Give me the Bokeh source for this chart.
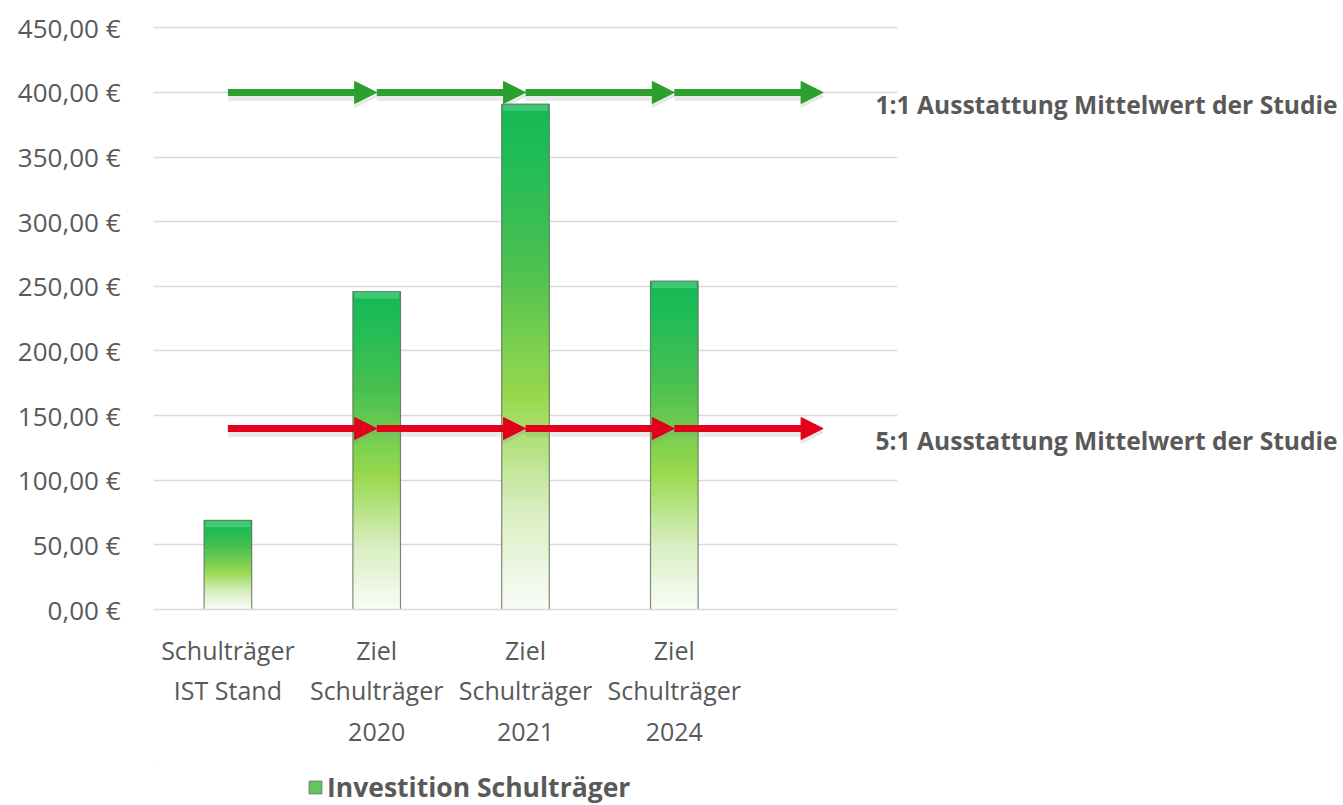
import numpy as np
from bokeh.plotting import figure
from bokeh.layouts import column
from bokeh.models import (Range1d, FixedTicker, Arrow, NormalHead,
                          Legend, LegendItem, ColumnDataSource, LinearAxis)
from bokeh.embed import file_html
from bokeh.resources import INLINE

# ---------------- data ----------------
categories = ["Schulträger\nIST Stand", "Ziel\nSchulträger\n2020",
              "Ziel\nSchulträger\n2021", "Ziel\nSchulträger\n2024", ""]
investition = [69, 246, 391, 254]
mittelwert_1zu1 = 400
mittelwert_5zu1 = 140
y_ticks = [0, 50, 100, 150, 200, 250, 300, 350, 400, 450]
y_tick_labels = ["0,00 €", "50,00 €", "100,00 €", "150,00 €", "200,00 €",
                 "250,00 €", "300,00 €", "350,00 €", "400,00 €", "450,00 €"]
series_name = "Investition Schulträger"
label_1zu1 = "1:1 Ausstattung Mittelwert der Studie"
label_5zu1 = "5:1 Ausstattung Mittelwert der Studie"

FONT = "Open Sans"
TXT = "#595959"

n_cat = len(categories)
centers = [i + 0.5 for i in range(n_cat)]

Y0, Y1 = 0, 451
FRAME_H = 583
px = (Y1 - Y0) / FRAME_H          # data units per pixel

p = figure(width=1343, height=765, output_backend="svg", toolbar_location=None,
           x_range=Range1d(0, n_cat), y_range=Range1d(Y0, Y1),
           min_border_left=153, min_border_right=446, min_border_top=26,
           min_border_bottom=156)
p.outline_line_color = None
p.background_fill_color = "white"
# shifted ranges: text placed 12 px below its line, shadows 4 px below
p.extra_y_ranges = {"lbl": Range1d(Y0 + 12 * px, Y1 + 12 * px),
                    "shadow": Range1d(Y0 + 4 * px, Y1 + 4 * px)}

# grid
p.xgrid.grid_line_color = None
p.ygrid.ticker = FixedTicker(ticks=y_ticks)
p.ygrid.grid_line_color = "#d9d9d9"
p.ygrid.grid_line_width = 1.5

# y axis
p.yaxis.ticker = FixedTicker(ticks=y_ticks)
p.yaxis.major_label_overrides = {t: l for t, l in zip(y_ticks, y_tick_labels)}
p.yaxis.axis_line_color = None
p.yaxis.major_tick_line_color = None
p.yaxis.minor_tick_line_color = None
p.yaxis.major_label_standoff = 27
p.yaxis.major_label_text_font = FONT
p.yaxis.major_label_text_font_size = "26px"
p.yaxis.major_label_text_color = TXT

# x axis
p.xaxis.ticker = FixedTicker(ticks=centers)
p.xaxis.major_label_overrides = {c: l for c, l in zip(centers, categories)}
p.xaxis.axis_line_color = "#d9d9d9"
p.xaxis.axis_line_width = 1.5
p.xaxis.major_tick_line_color = None
p.xaxis.minor_tick_line_color = None
p.xaxis.major_label_standoff = 17
p.xaxis.major_label_text_font = FONT
p.xaxis.major_label_text_font_size = "25px"
p.xaxis.major_label_text_color = TXT

# right axis carrying the two reference-line labels
ref_vals = [mittelwert_1zu1, mittelwert_5zu1]
ref_labels = [label_1zu1, label_5zu1]
raxis = LinearAxis(y_range_name="lbl", ticker=FixedTicker(ticks=ref_vals),
                   major_label_overrides={v: l for v, l in zip(ref_vals, ref_labels)},
                   axis_line_color=None, major_tick_line_color=None,
                   minor_tick_line_color=None, major_label_standoff=-28,
                   major_label_text_font=FONT, major_label_text_font_style="bold",
                   major_label_text_font_size="24.6px", major_label_text_color=TXT)
p.add_layout(raxis, "right")

# ---------------- gradient bars ----------------
stops_t = [0.0, 0.08, 0.3, 0.58, 0.8, 1.0]
stops_c = np.array([(22, 182, 84), (28, 188, 88), (70, 192, 80),
                    (152, 216, 78), (216, 238, 192), (250, 252, 248)], float)

def grad_color(t):
    rgb = [np.interp(t, stops_t, stops_c[:, k]) for k in range(3)]
    return "#%02x%02x%02x" % tuple(int(round(v)) for v in rgb)

N = 90
bw = 0.32
xs, bots, tops, cols = [], [], [], []
for i, v in enumerate(investition):
    for k in range(N):
        b = v * k / N
        tp = min(v, v * (k + 1.8) / N)
        t = 1 - (k + 0.5) / N
        xs.append(centers[i]); bots.append(b); tops.append(tp)
        cols.append(grad_color(t))
p.vbar(x=xs, bottom=bots, top=tops, width=bw, fill_color=cols, line_color=None)

bar_src = ColumnDataSource(dict(x=centers[:len(investition)], top=investition,
                                hl=[v - 7 * px for v in investition]))
# top bevel highlight
p.vbar(x="x", top="top", bottom="hl", width=bw * 0.94, source=bar_src,
       fill_color="#6fe29a", fill_alpha=0.45, line_color=None)
# outline
p.vbar(x="x", top="top", width=bw, source=bar_src, fill_color=None,
       line_color="#5e6e5e", line_width=1.2, line_alpha=0.8)

# ---------------- arrows ----------------
def arrow_row(yv, color, rng="default", alpha=1.0, lw=7):
    for i in range(len(centers) - 1):
        p.add_layout(Arrow(x_start=centers[i], x_end=centers[i + 1],
                           y_start=yv, y_end=yv, line_color=color,
                           line_alpha=alpha, line_width=lw, y_range_name=rng,
                           end=NormalHead(size=22, fill_color=color, fill_alpha=alpha,
                                          line_color=color, line_alpha=alpha)))

arrow_row(mittelwert_1zu1, "#888888", "shadow", 0.18, 9)
arrow_row(mittelwert_5zu1, "#888888", "shadow", 0.18, 9)
arrow_row(mittelwert_1zu1, "#2ca02f")
arrow_row(mittelwert_5zu1, "#e2001a")

# ---------------- legend strip ----------------
lf = figure(width=1343, height=40, output_backend="svg", toolbar_location=None,
            x_range=Range1d(0, 1), y_range=Range1d(0, 1),
            x_axis_type=None, y_axis_type=None,
            min_border_left=0, min_border_right=0, min_border_top=0,
            min_border_bottom=0)
lf.outline_line_color = None
lf.border_fill_color = "white"
lf.background_fill_color = "white"
proxy = lf.vbar(x=[-10], bottom=[5], top=[6], width=0.1, fill_color="#5ec85a",
                line_color="#7a7a7a", line_width=1)
legend = Legend(items=[LegendItem(label=series_name, renderers=[proxy])],
                location=(154, 0), orientation="horizontal",
                label_text_font=FONT, label_text_font_style="bold",
                label_text_font_size="26.5px", label_text_color=TXT,
                glyph_width=16, glyph_height=16, label_standoff=4,
                padding=4, margin=0,
                border_line_color=None, background_fill_alpha=0)
lf.add_layout(legend, "center")

layout = column(p, lf, spacing=0)
open("out.html", "w").write(file_html(layout, INLINE))
